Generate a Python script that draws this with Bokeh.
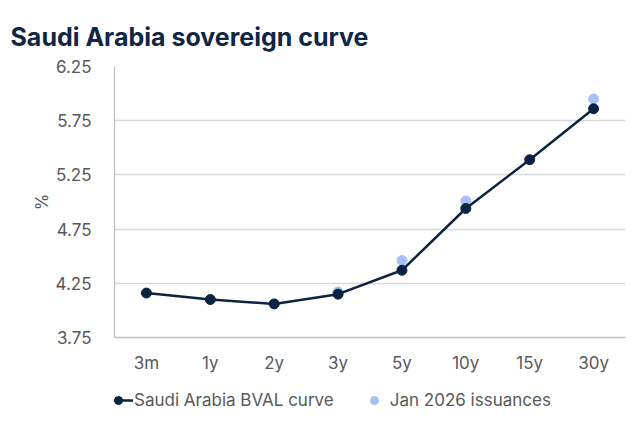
from bokeh.plotting import figure
from bokeh.layouts import column
from bokeh.models import FactorRange, Range1d, FixedTicker, PrintfTickFormatter, Legend, LegendItem, ColumnDataSource
from bokeh.embed import file_html
from bokeh.resources import INLINE

tenors = ["3m", "1y", "2y", "3y", "5y", "10y", "15y", "30y"]
bval = [4.16, 4.10, 4.06, 4.15, 4.37, 4.94, 5.39, 5.86]
iss_tenors = ["3y", "5y", "10y", "30y"]
iss_vals = [4.17, 4.46, 5.01, 5.95]
y_ticks = [3.75, 4.25, 4.75, 5.25, 5.75, 6.25]
series_names = ["Saudi Arabia BVAL curve", "Jan 2026 issuances"]

NAVY = "#0c2340"
LIGHT = "#a6c1f6"
GRAY = "#595959"
FONT = "Inter"

p = figure(frame_width=511, frame_height=271, x_range=FactorRange(factors=tenors),
           y_range=Range1d(3.75, 6.25), output_backend="svg", toolbar_location=None,
           min_border_left=114, min_border_right=10, min_border_top=66, min_border_bottom=40)

p.title.text = "Saudi Arabia sovereign curve"
p.title.text_font = FONT
p.title.text_font_size = "25px"
p.title.text_font_style = "bold"
p.title.text_color = "#0f2746"
p.title.align = "left"
p.title.offset = -104
p.title.standoff = 30

p.outline_line_color = None
p.xgrid.grid_line_color = None
p.ygrid.ticker = FixedTicker(ticks=y_ticks[1:-1])
p.ygrid.grid_line_color = "#d9d9d9"
p.ygrid.grid_line_width = 1.3

p.yaxis.ticker = FixedTicker(ticks=y_ticks)
p.yaxis.formatter = PrintfTickFormatter(format="%.2f")
p.yaxis.axis_label = "%"
p.yaxis.axis_label_text_font = FONT
p.yaxis.axis_label_text_font_size = "17px"
p.yaxis.axis_label_text_font_style = "normal"
p.yaxis.axis_label_text_color = GRAY
p.yaxis.axis_label_standoff = 0

for ax in (p.xaxis, p.yaxis):
    ax.axis_line_color = "#bfbfbf"
    ax.axis_line_width = 1.3
    ax.major_tick_line_color = None
    ax.minor_tick_line_color = None
    ax.major_label_text_font = FONT
    ax.major_label_text_font_size = "17px"
    ax.major_label_text_color = GRAY
p.yaxis.major_label_standoff = 17
p.xaxis.major_label_standoff = 9

src = ColumnDataSource(dict(x=tenors, y=bval))
isrc = ColumnDataSource(dict(x=iss_tenors, y=iss_vals))

p.scatter("x", "y", source=isrc, size=10, fill_color=LIGHT, line_color=LIGHT)
p.line("x", "y", source=src, line_color=NAVY, line_width=2.5)
p.scatter("x", "y", source=src, size=10, fill_color=NAVY, line_color=NAVY)

# legend strip below the chart (its frame lines up with the chart frame)
p2 = figure(width=635, height=44, x_range=Range1d(0, 1), y_range=Range1d(0, 1),
            x_axis_type=None, y_axis_type=None, output_backend="svg", toolbar_location=None,
            min_border_left=114, min_border_right=10, min_border_top=0, min_border_bottom=0)
p2.outline_line_color = None
p2.xgrid.grid_line_color = None
p2.ygrid.grid_line_color = None
nan = float("nan")
dummy = ColumnDataSource(dict(x=[nan], y=[nan]))
l_line = p2.line("x", "y", source=dummy, line_color=NAVY, line_width=2.5)
l_pts = p2.scatter("x", "y", source=dummy, size=10, fill_color=NAVY, line_color=NAVY)
l_iss = p2.scatter("x", "y", source=dummy, size=10, fill_color=LIGHT, line_color=LIGHT)

legend = Legend(items=[LegendItem(label=series_names[0], renderers=[l_line, l_pts]),
                       LegendItem(label=series_names[1], renderers=[l_iss])],
                location=(-11, 11), orientation="horizontal",
                background_fill_alpha=0, border_line_color=None,
                label_text_font=FONT, label_text_font_size="17px", label_text_color=GRAY,
                glyph_width=30, label_standoff=1, spacing=25, padding=0, margin=0)
p2.add_layout(legend, "center")

open("out.html", "w").write(file_html(column(p, p2, spacing=0), INLINE))
